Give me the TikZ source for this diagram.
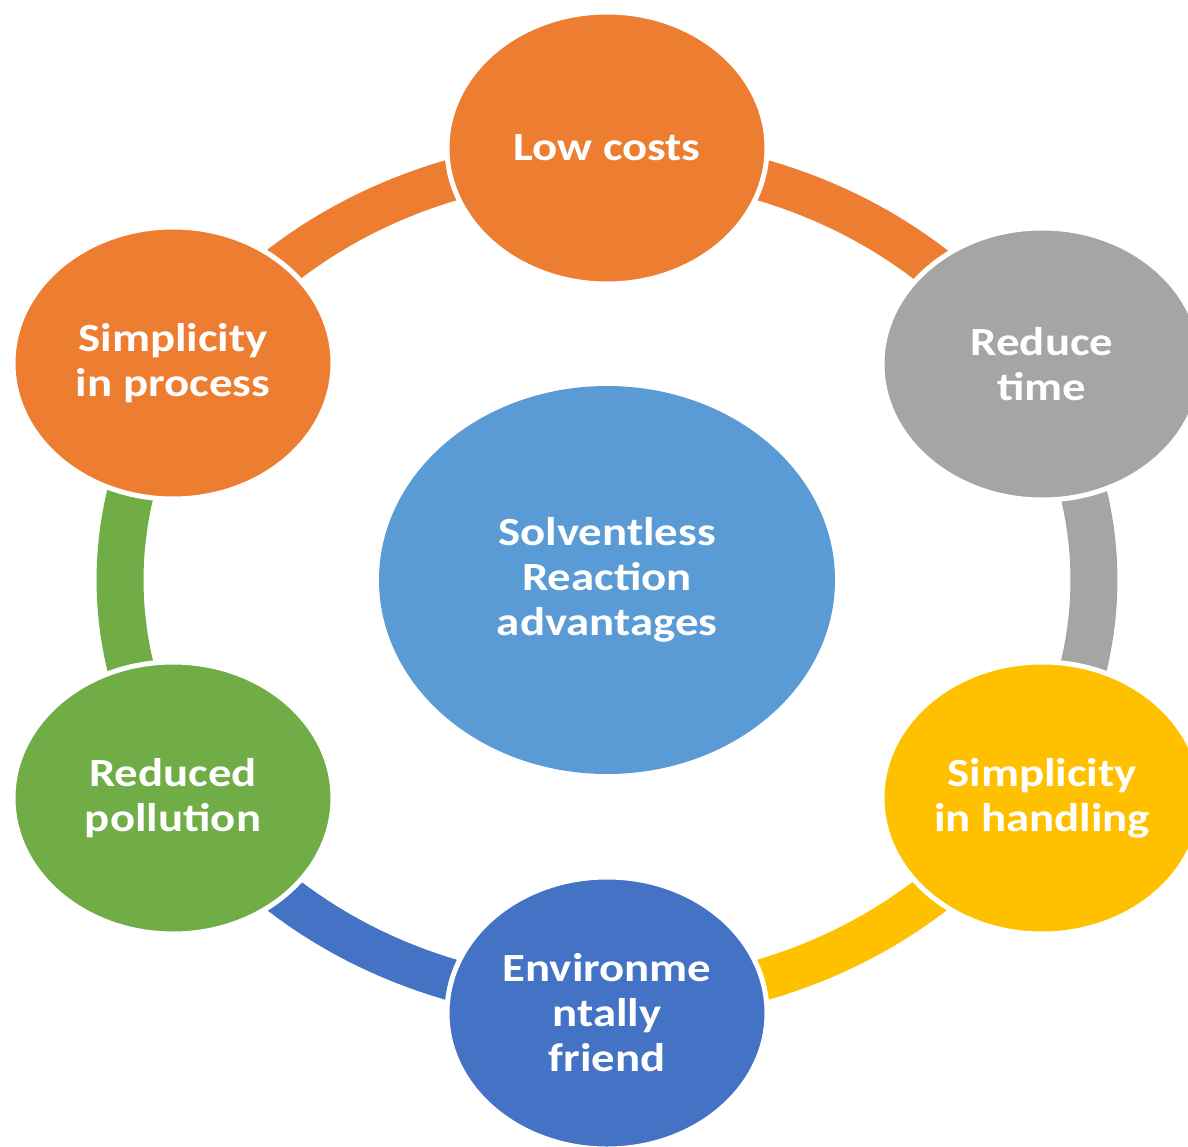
\documentclass[tikz,border=0pt]{standalone}
\usepackage{fontspec}
\setmainfont{Carlito}[FakeStretch=1.17]
\usetikzlibrary{shapes.geometric}
\definecolor{corange}{HTML}{ED7D31}
\definecolor{cgray}{HTML}{A5A5A5}
\definecolor{cyellow}{HTML}{FFC000}
\definecolor{cdblue}{HTML}{4472C4}
\definecolor{cgreen}{HTML}{70AD47}
\definecolor{clblue}{HTML}{5B9BD5}
\begin{document}
\begin{tikzpicture}[x=1pt,y=-1pt,
  bubble/.style={ellipse, draw=white, line width=5pt, minimum width=320pt,
    minimum height=272pt, inner sep=0pt, text=white, align=center,
    font=\bfseries\fontsize{40}{45}\selectfont},
  hub/.style={bubble, draw=none, minimum width=456pt, minimum height=388pt}]
\useasboundingbox (0,0) rectangle (1188,1147);
\clip (0,0) rectangle (1188,1147);
% ring segments (behind the bubbles)
\foreach \col/\pa/\pb in {corange/210/270, corange/270/330, cgray/-30/30,
    cyellow/30/90, cdblue/90/150, cgreen/150/210}{
  \fill[\col] plot[domain=\pa:\pb, samples=40] ({607+510.5*cos(\x)},{580+442.5*sin(\x)})
    -- plot[domain=\pb:\pa, samples=40] ({607+463.5*cos(\x)},{580+401.5*sin(\x)}) -- cycle;
}
\node[bubble, fill=corange] (low) at (607,148) {Low costs};
\node[bubble, fill=cgray] (time) at (1042,364) {Reduce\\time};
\node[bubble, fill=cyellow] (handling) at (1042,798) {Simplicity\\in handling};
\node[bubble, fill=cdblue] (env) at (607,1013) {Environme\\ntally\\friend};
\node[bubble, fill=cgreen] (pollution) at (173,798) {Reduced\\pollution};
\node[bubble, fill=corange] (process) at (173,363) {Simplicity\\in process};
\node[hub, fill=clblue] (center) at (607,580) {Solventless\\Reaction\\advantages};
\end{tikzpicture}
\end{document}
